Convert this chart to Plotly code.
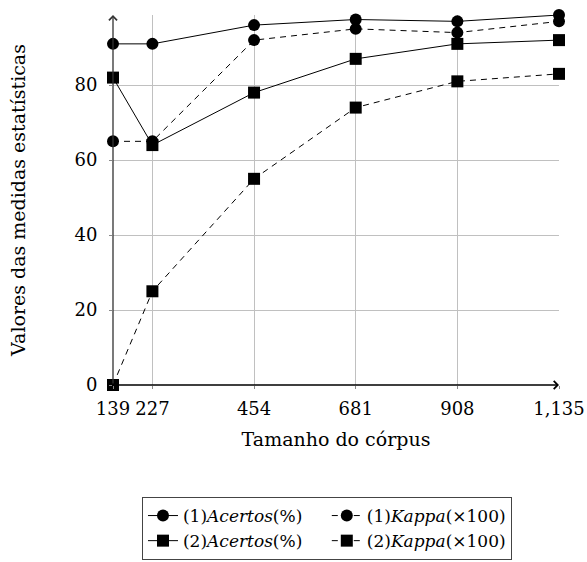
import plotly.graph_objects as go

sizes = [139, 227, 454, 681, 908, 1135]
acertos1 = [91, 91, 96, 97.5, 97, 98.7]
kappa1 = [65, 65, 92, 95, 94, 97]
acertos2 = [82, 64, 78, 87, 91, 92]
kappa2 = [0, 25, 55, 74, 81, 83]
ytick_vals = [0, 20, 40, 60, 80]
xtick_text = ["139", "227", "454", "681", "908", "1,135"]

FONT = "DejaVu Serif"
fig = go.Figure()

series = [
    ("(1)<i>Acertos</i>(%)", acertos1, "circle", "solid"),
    ("(1)<i>Kappa</i>(×100)", kappa1, "circle", "6px,5px"),
    ("(2)<i>Acertos</i>(%)", acertos2, "square", "solid"),
    ("(2)<i>Kappa</i>(×100)", kappa2, "square", "6px,5px"),
]
for name, vals, sym, dash in series:
    fig.add_trace(go.Scatter(
        x=sizes, y=vals, name=name, mode="lines+markers",
        line=dict(color="black", width=1, dash=dash),
        marker=dict(symbol=sym, size=12, color="black"),
        cliponaxis=False,
    ))

ymax = max(acertos1)
# axis arrows
fig.add_annotation(x=sizes[0], y=ymax, ax=sizes[0], ay=0, xref="x", yref="y",
                   axref="x", ayref="y", showarrow=True, arrowhead=4,
                   arrowsize=1.2, arrowwidth=1.3, arrowcolor="#333", text="")
fig.add_annotation(x=sizes[-1], y=0, ax=sizes[0], ay=0, xref="x", yref="y",
                   axref="x", ayref="y", showarrow=True, arrowhead=4,
                   arrowsize=1.2, arrowwidth=1.3, arrowcolor="black", text="")

fig.update_layout(
    width=587, height=562,
    margin=dict(l=113, r=28, t=15, b=177, autoexpand=False),
    plot_bgcolor="white", paper_bgcolor="white",
    font=dict(family=FONT, size=18, color="black"),
    showlegend=True,
    legend=dict(
        orientation="h", x=0.065, xanchor="left", y=-0.3027, yanchor="top",
        bordercolor="#444", borderwidth=1, font=dict(size=17),
        tracegroupgap=0, itemwidth=30,
    ),
    xaxis=dict(
        range=[sizes[0], sizes[-1]], tickvals=sizes, ticktext=xtick_text,
        tickangle=0, showgrid=True, gridcolor="#c0c0c0", gridwidth=1,
        zeroline=False, showline=False, ticks="outside", ticklen=3,
        tickcolor="#888", ticklabelstandoff=4,
        title=dict(text="Tamanho do córpus", standoff=15, font=dict(size=19)),
    ),
    yaxis=dict(
        range=[0, ymax], tickvals=ytick_vals, showgrid=True,
        gridcolor="#c0c0c0", gridwidth=1, zeroline=False, showline=False,
        ticks="outside", ticklen=3, tickcolor="#888", ticklabelstandoff=8,
        title=dict(text="Valores das medidas estatísticas", standoff=43,
                   font=dict(size=19)),
    ),
)
fig.write_html("out.html")
